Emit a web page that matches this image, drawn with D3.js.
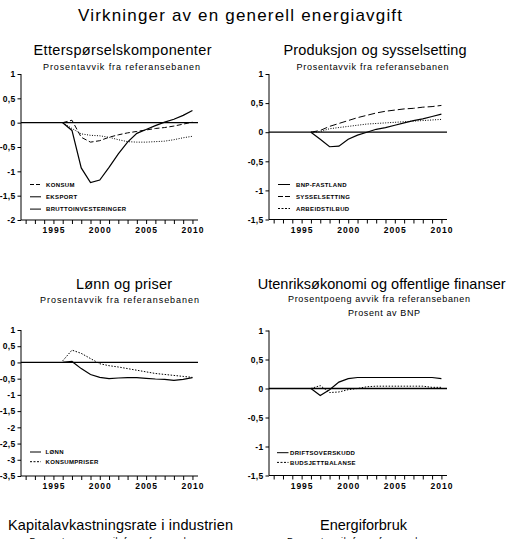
<!DOCTYPE html>
<html>
<head>
<meta charset="utf-8">
<script src="https://cdn.jsdelivr.net/npm/d3@7/dist/d3.min.js"></script>
<style>
  html, body { margin: 0; padding: 0; background: #fff; }
  svg { display: block; font-family: "Liberation Sans", Arial, sans-serif; }
</style>
</head>
<body>
<svg id="chart" width="511" height="539"></svg>
<script>
// ---------- DATA ----------
const years = [1996,1997,1998,1999,2000,2001,2002,2003,2004,2005,2006,2007,2008,2009,2010];
const xTickYears = d3.range(1992, 2011);
const xLabelYears = [1995, 2000, 2005, 2010];

// Panel 1: Etterspørselskomponenter
const konsum      = [0, 0.05, -0.30, -0.40, -0.37, -0.30, -0.25, -0.21, -0.18, -0.15, -0.12, -0.10, -0.07, -0.03, 0.01];
const eksport     = [0, -0.12, -0.23, -0.26, -0.27, -0.30, -0.35, -0.39, -0.40, -0.40, -0.39, -0.38, -0.35, -0.31, -0.28];
const bruttoinv   = [0, -0.16, -0.93, -1.23, -1.18, -0.92, -0.64, -0.40, -0.22, -0.14, -0.06, 0.01, 0.07, 0.15, 0.25];
const yTicks1 = [1, 0.5, 0, -0.5, -1, -1.5, -2];

// Panel 2: Produksjon og sysselsetting
const bnpFastland    = [0, -0.12, -0.25, -0.24, -0.12, -0.05, 0.00, 0.05, 0.08, 0.12, 0.16, 0.20, 0.23, 0.27, 0.31];
const sysselsetting  = [0, 0.03, 0.10, 0.15, 0.20, 0.25, 0.29, 0.33, 0.36, 0.38, 0.40, 0.41, 0.43, 0.44, 0.46];
const arbeidstilbud  = [0, 0.01, 0.06, 0.08, 0.10, 0.12, 0.14, 0.15, 0.16, 0.17, 0.18, 0.19, 0.20, 0.21, 0.22];
const yTicks2 = [1, 0.5, 0, -0.5, -1, -1.5];

// Panel 3: Lønn og priser
const lonn          = [0, 0.03, -0.19, -0.37, -0.46, -0.50, -0.48, -0.47, -0.47, -0.49, -0.51, -0.52, -0.55, -0.52, -0.47];
const konsumpriser  = [0.05, 0.38, 0.28, 0.12, -0.04, -0.10, -0.14, -0.19, -0.24, -0.29, -0.34, -0.37, -0.40, -0.43, -0.46];
const yTicks3 = [1, 0.5, 0, -0.5, -1, -1.5, -2, -2.5, -3, -3.5];

// Panel 4: Utenriksøkonomi og offentlige finanser
const driftsoverskudd  = [0, -0.12, -0.02, 0.11, 0.17, 0.19, 0.19, 0.19, 0.19, 0.19, 0.19, 0.19, 0.19, 0.19, 0.17];
const budsjettbalanse  = [0, 0.05, -0.07, -0.06, -0.02, 0.00, 0.03, 0.04, 0.04, 0.04, 0.04, 0.04, 0.04, 0.02, 0.02];
const yTicks4 = [1, 0.5, 0, -0.5, -1, -1.5];

// ---------- DRAWING ----------
const svg = d3.select("#chart");
const fmt = v => String(v).replace(".", ",");

function text(x, y, str, size, opts = {}) {
  const t = svg.append("text")
    .attr("x", x).attr("y", y)
    .attr("text-anchor", opts.anchor || "middle")
    .attr("font-size", size)
    .attr("font-weight", opts.weight || "normal")
    .attr("fill", "#000")
    .text(str);
  if (opts.len) t.attr("textLength", opts.len).attr("lengthAdjust", "spacing");
  if (opts.ls) t.attr("letter-spacing", opts.ls);
  return t;
}

function panel(cfg) {
  const x = d3.scaleLinear().domain([1991.5, 2010.6]).range([cfg.left, cfg.right]);
  const y = d3.scaleLinear().domain([cfg.yTicks[cfg.yTicks.length - 1], cfg.yTicks[0]]).range([cfg.bottom, cfg.top]);
  const g = svg.append("g");

  // y axis
  const yAxis = d3.axisLeft(y).tickValues(cfg.yTicks).tickSize(3.5).tickPadding(2).tickFormat(fmt);
  const ya = g.append("g").attr("transform", `translate(${cfg.left},0)`).call(yAxis);
  ya.select(".domain").attr("d", `M0,${cfg.top}V${cfg.bottom}`).attr("stroke", "#000").attr("stroke-width", 1);
  ya.selectAll(".tick line").attr("stroke", "#000");
  ya.selectAll("text").attr("font-size", 8.5).attr("font-weight", "bold").attr("letter-spacing", 0.3)
    .attr("font-family", '"Liberation Sans", Arial, sans-serif').attr("fill", "#000");

  // x axis
  const xAxis = d3.axisBottom(x).tickValues(xTickYears).tickSize(4).tickPadding(3)
    .tickFormat(d => xLabelYears.includes(d) ? d : "");
  const xa = g.append("g").attr("transform", `translate(0,${cfg.bottom})`).call(xAxis);
  xa.select(".domain").attr("d", `M${cfg.left},0H${cfg.right}`).attr("stroke", "#000");
  xa.selectAll(".tick line").attr("stroke", "#000");
  xa.selectAll("text").attr("font-size", 8.5).attr("font-weight", "bold").attr("letter-spacing", 1)
    .attr("font-family", '"Liberation Sans", Arial, sans-serif').attr("fill", "#000");

  // zero line
  g.append("line").attr("x1", cfg.left).attr("x2", cfg.right)
    .attr("y1", y(0)).attr("y2", y(0)).attr("stroke", "#000").attr("stroke-width", 1.3);

  const line = d3.line().x((d, i) => x(years[i])).y(d => y(d));
  cfg.series.forEach(s => {
    g.append("path").datum(s.values).attr("d", line)
      .attr("fill", "none").attr("stroke", "#000").attr("stroke-width", s.width || 1)
      .attr("stroke-dasharray", s.dash || null);
  });

  // legend
  cfg.series.forEach((s, i) => {
    const ly = cfg.legend.y + i * cfg.legend.step;
    g.append("line").attr("x1", cfg.legend.x).attr("x2", cfg.legend.x + cfg.legend.w)
      .attr("y1", ly).attr("y2", ly).attr("stroke", "#000").attr("stroke-width", 1)
      .attr("stroke-dasharray", s.ldash || null);
    g.append("text").attr("x", cfg.legend.tx).attr("y", ly).attr("dy", "0.35em")
      .attr("font-size", 6).attr("font-weight", "bold").attr("letter-spacing", 0.35)
      .attr("fill", "#000").text(s.name);
  });
}

// Titles
text(240, 21, "Virkninger av en generell energiavgift", 17, { len: 324 });

text(122.5, 55, "Etterspørselskomponenter", 14.5, { len: 178 });
text(121.5, 70, "Prosentavvik fra referansebanen", 9, { len: 157 });

text(375, 55, "Produksjon og sysselsetting", 14.5, { len: 183 });
text(372.5, 70, "Prosentavvik fra referansebanen", 9, { len: 152 });

text(124, 289, "Lønn og priser", 14.5, { len: 96 });
text(119.5, 303, "Prosentavvik fra referansebanen", 9, { len: 159 });

text(381.7, 288.5, "Utenriksøkonomi og offentlige finanser", 14.5, { len: 248 });
text(379, 302, "Prosentpoeng avvik fra referansebanen", 9, { len: 182 });
text(384, 316, "Prosent av BNP", 9, { len: 72 });

text(120.5, 530, "Kapitalavkastningsrate i industrien", 14.5, { len: 225 });
text(120.5, 544, "Prosentpoeng avvik fra referansebanen", 9, { len: 182 });
text(363.5, 530, "Energiforbruk", 14.5, { len: 87 });
text(365.5, 544, "Prosentavvik fra referansebanen", 9, { len: 157 });

panel({
  left: 21, right: 198, top: 74, bottom: 220, yTicks: yTicks1,
  series: [
    { name: "KONSUM", values: konsum, dash: "5,2.5", ldash: "4,2" },
    { name: "EKSPORT", values: eksport, dash: "1,1.5" },
    { name: "BRUTTOINVESTERINGER", values: bruttoinv, width: 1.2 }
  ],
  legend: { x: 30, w: 11, tx: 46, y: 184.5, step: 12.3 }
});

panel({
  left: 269, right: 447, top: 74, bottom: 219.5, yTicks: yTicks2,
  series: [
    { name: "BNP-FASTLAND", values: bnpFastland, width: 1.2 },
    { name: "SYSSELSETTING", values: sysselsetting, dash: "7,3", ldash: "5,2" },
    { name: "ARBEIDSTILBUD", values: arbeidstilbud, dash: "1,1.5", ldash: "2,1.5" }
  ],
  legend: { x: 278, w: 12, tx: 296, y: 184.5, step: 12 }
});

panel({
  left: 21, right: 198, top: 330, bottom: 476, yTicks: yTicks3,
  series: [
    { name: "LØNN", values: lonn, width: 1.2 },
    { name: "KONSUMPRISER", values: konsumpriser, dash: "1.5,1.5", ldash: "2,1.5" }
  ],
  legend: { x: 30, w: 11, tx: 45.5, y: 452, step: 9.7 }
});

panel({
  left: 269, right: 447, top: 330.5, bottom: 475.5, yTicks: yTicks4,
  series: [
    { name: "DRIFTSOVERSKUDD", values: driftsoverskudd, width: 1.2 },
    { name: "BUDSJETTBALANSE", values: budsjettbalanse, dash: "1.5,1.5", ldash: "2,1.5" }
  ],
  legend: { x: 277, w: 11.5, tx: 290, y: 452.7, step: 9.7 }
});
</script>
</body>
</html>
